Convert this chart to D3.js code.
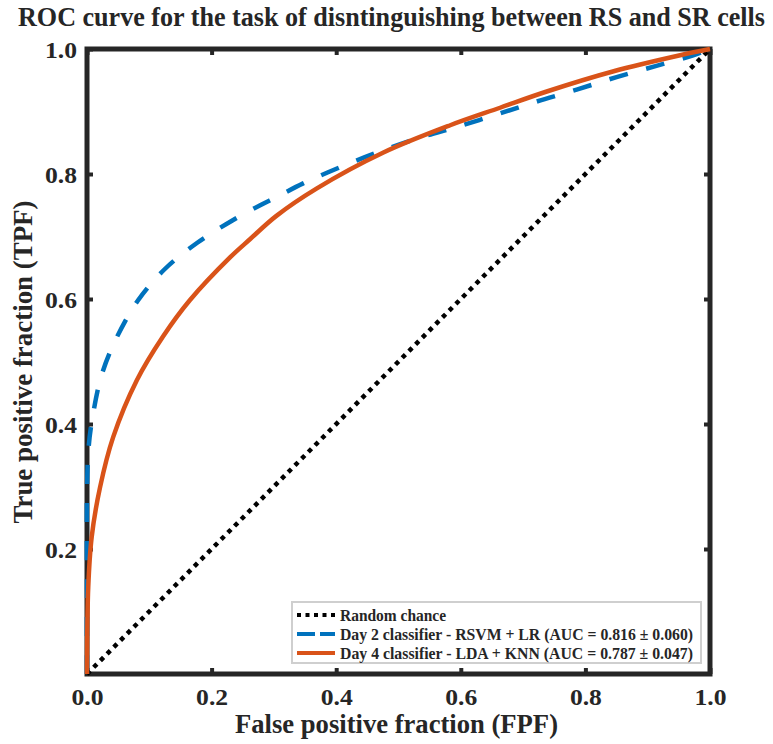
<!DOCTYPE html>
<html>
<head>
<meta charset="utf-8">
<script src="https://cdn.jsdelivr.net/npm/d3@7"></script>
<style>
  html, body { margin: 0; padding: 0; background: #fff; }
  svg { display: block; }
  text { font-weight: bold; fill: #262626; }
</style>
</head>
<body>
<svg id="chart" width="773" height="744"></svg>
<script>
// ROC curves (false positive fraction vs. true positive fraction)
const day2Fpf = [0, 0, 0.002, 0.010, 0.024, 0.048, 0.082, 0.125, 0.177, 0.234, 0.278, 0.304, 0.347, 0.409, 0.470, 0.534, 0.596, 0.660, 0.722, 0.786, 0.850, 0.914, 0.973, 1];
const day2Tpf = [0, 0.110, 0.354, 0.417, 0.480, 0.539, 0.598, 0.648, 0.690, 0.726, 0.750, 0.763, 0.785, 0.812, 0.836, 0.858, 0.876, 0.896, 0.916, 0.935, 0.955, 0.973, 0.990, 1];

const day4Fpf = [0, 0, 0.002, 0.0075, 0.021, 0.042, 0.080, 0.122, 0.165, 0.230, 0.262, 0.304, 0.369, 0.475, 0.583, 0.663, 0.738, 0.844, 0.952, 1];
const day4Tpf = [0, 0.018, 0.139, 0.219, 0.299, 0.379, 0.470, 0.540, 0.598, 0.667, 0.696, 0.733, 0.777, 0.834, 0.878, 0.906, 0.932, 0.964, 0.990, 1];

const chanceFpf = [0, 1];
const chanceTpf = [0, 1];

const xTicks = [0, 0.2, 0.4, 0.6, 0.8, 1.0];
const yTicks = [0.2, 0.4, 0.6, 0.8, 1.0];

const legendLabels = [
  "Random chance",
  "Day 2 classifier - RSVM + LR (AUC = 0.816 \u00B1 0.060)",
  "Day 4 classifier - LDA + KNN (AUC = 0.787 \u00B1 0.047)"
];

const titleText = "ROC curve for the task of disntinguishing between RS and SR cells";
const xLabel = "False positive fraction (FPF)";
const yLabel = "True positive fraction (TPF)";

const blue = "#0072BD", orange = "#D95319", axisColor = "#262626";
const serif = "'Liberation Serif', 'Times New Roman', Tinos, 'DejaVu Serif', 'Noto Serif', FreeSerif, serif";

const svg = d3.select("#chart").attr("font-family", serif);
const plotLeft = 87, plotRight = 710, plotTop = 49, plotBottom = 674;

const x = d3.scaleLinear().domain([0, 1]).range([plotLeft, plotRight]);
const y = d3.scaleLinear().domain([0, 1]).range([plotBottom, plotTop]);

const toPoints = (xs, ys) => xs.map((v, i) => [v, ys[i]]);
const line = d3.line().x(d => x(d[0])).y(d => y(d[1])).curve(d3.curveCatmullRom.alpha(0.5));
const straight = d3.line().x(d => x(d[0])).y(d => y(d[1]));

// serif face, optionally squeezed or stretched to a set width
function serifText(sel, size, w) {
  sel.style("font-family", serif).style("font-weight", "bold").style("font-size", size + "px");
  if (w) sel.attr("textLength", w).attr("lengthAdjust", "spacingAndGlyphs");
}

// axes with inward ticks, boxed
const tickLen = 6;
const xAxisB = d3.axisBottom(x).tickValues(xTicks).tickSizeInner(-tickLen).tickSizeOuter(0).tickPadding(0).tickFormat(d3.format(".1f"));
const xAxisT = d3.axisTop(x).tickValues(xTicks).tickSizeInner(-tickLen).tickSizeOuter(0).tickFormat("");
const yAxisL = d3.axisLeft(y).tickValues(yTicks).tickSizeInner(-tickLen).tickSizeOuter(0).tickPadding(0).tickFormat(d3.format(".1f"));
const yAxisR = d3.axisRight(y).tickValues(yTicks).tickSizeInner(-tickLen).tickSizeOuter(0).tickFormat("");

function styleAxis(g) {
  g.attr("font-family", serif).attr("font-size", null);
  g.select(".domain").remove();
  g.selectAll(".tick line").attr("stroke", axisColor).attr("stroke-width", 4);
  g.selectAll(".tick text").attr("fill", axisColor).call(serifText, 24, 32);
}

const gxb = svg.append("g").attr("transform", `translate(0,${plotBottom})`).call(xAxisB).call(styleAxis);
gxb.selectAll(".tick text").attr("y", 31).attr("dy", null);
svg.append("g").attr("transform", `translate(0,${plotTop})`).call(xAxisT).call(styleAxis);
const gyl = svg.append("g").attr("transform", `translate(${plotLeft},0)`).call(yAxisL).call(styleAxis);
gyl.selectAll(".tick text").attr("x", -10).attr("dy", "8.5");
svg.append("g").attr("transform", `translate(${plotRight},0)`).call(yAxisR).call(styleAxis);

// frame
svg.append("rect")
  .attr("x", plotLeft).attr("y", plotTop)
  .attr("width", plotRight - plotLeft).attr("height", plotBottom - plotTop)
  .attr("fill", "none").attr("stroke", axisColor).attr("stroke-width", 5);

const plot = svg.append("g");

// diagonal chance line
plot.append("path")
  .attr("d", straight(toPoints(chanceFpf, chanceTpf)))
  .attr("fill", "none").attr("stroke", "#000")
  .attr("stroke-width", 4.5).attr("stroke-dasharray", "4.5 5");

// Day 2 classifier
plot.append("path")
  .attr("d", line(toPoints(day2Fpf, day2Tpf)))
  .attr("fill", "none").attr("stroke", blue)
  .attr("stroke-width", 4.5).attr("stroke-dasharray", "19 19");

// Day 4 classifier
plot.append("path")
  .attr("d", line(toPoints(day4Fpf, day4Tpf)))
  .attr("fill", "none").attr("stroke", orange)
  .attr("stroke-width", 4.5);

// legend
const lg = svg.append("g");
lg.append("rect").attr("x", 292).attr("y", 602).attr("width", 409).attr("height", 61)
  .attr("fill", "#fff").attr("stroke", "#cfcfcf").attr("stroke-width", 2);
const legendStyles = [
  { color: "#000", dash: "4 4.5", w: 106 },
  { color: blue, dash: "18 5", w: 353 },
  { color: orange, dash: null, w: 353 }
];
legendLabels.forEach((lab, i) => {
  const yy = 615 + i * 19;
  const ln = lg.append("line").attr("x1", 297).attr("x2", 335).attr("y1", yy).attr("y2", yy)
    .attr("stroke", legendStyles[i].color).attr("stroke-width", 4);
  if (legendStyles[i].dash) ln.attr("stroke-dasharray", legendStyles[i].dash);
  lg.append("text").attr("x", 340).attr("y", yy + 5.5).attr("fill", "#000")
    .text(lab).call(serifText, 16, legendStyles[i].w);
});

// titles
svg.append("text").attr("x", 391.5).attr("y", 26).attr("text-anchor", "middle")
  .attr("fill", "#000").text(titleText).call(serifText, 26.4, 747);
svg.append("text").attr("x", 396.5).attr("y", 733).attr("text-anchor", "middle")
  .text(xLabel).call(serifText, 26.4, 323);
svg.append("text").attr("transform", "translate(32,362) rotate(-90)").attr("text-anchor", "middle")
  .text(yLabel).call(serifText, 26.4, 323);
</script>
</body>
</html>
